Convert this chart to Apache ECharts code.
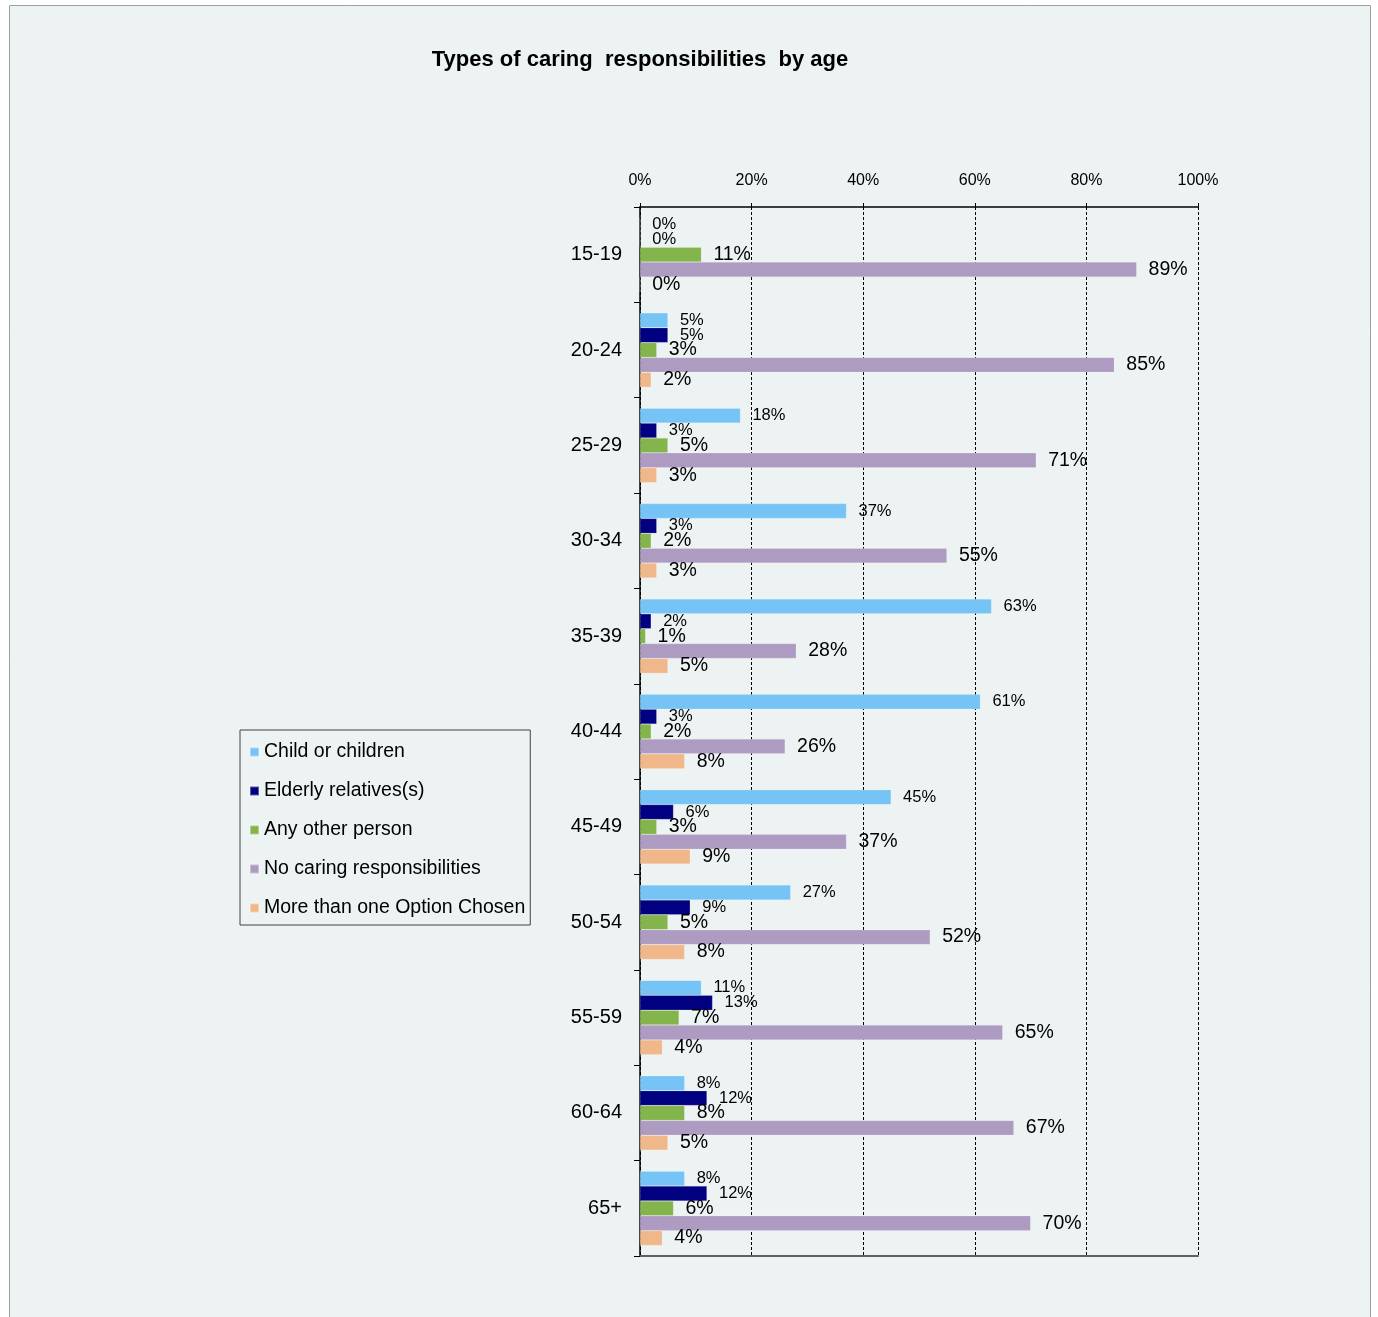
<!DOCTYPE html>
<html>
<head>
<meta charset="utf-8">
<title>Types of caring responsibilities by age</title>
<script src="https://cdn.jsdelivr.net/npm/echarts@6/dist/echarts.min.js"></script>
<style>
  html, body { margin: 0; padding: 0; background: #ffffff; }
  #chart { width: 1378px; height: 1317px; }
</style>
</head>
<body>
<div id="chart"></div>
<script>
// Age bands, top to bottom
const ageGroups = ['15-19', '20-24', '25-29', '30-34', '35-39', '40-44', '45-49', '50-54', '55-59', '60-64', '65+'];

// Percent of respondents in each age band
const childOrChildren   = [0, 5, 18, 37, 63, 61, 45, 27, 11, 8, 8];
const elderlyRelatives  = [0, 5, 3, 3, 2, 3, 6, 9, 13, 12, 12];
const anyOtherPerson    = [11, 3, 5, 2, 1, 2, 3, 5, 7, 8, 6];
const noCaring          = [89, 85, 71, 55, 28, 26, 37, 52, 65, 67, 70];
const moreThanOne       = [0, 2, 3, 3, 5, 8, 9, 8, 4, 5, 4];

// Axis tick values
const axisTicks = [0, 20, 40, 60, 80, 100];

const FONT = '"Liberation Sans", Arial, sans-serif';

const seriesDefs = [
  { name: 'Child or children',            data: childOrChildren,  color: '#75c4f5', labelSize: 16.5 },
  { name: 'Elderly relatives(s)',         data: elderlyRelatives, color: '#000080', labelSize: 16.5 },
  { name: 'Any other person',             data: anyOtherPerson,   color: '#84b44c', labelSize: 19.5 },
  { name: 'No caring responsibilities',   data: noCaring,         color: '#ae9bc2', labelSize: 19.5 },
  { name: 'More than one Option Chosen',  data: moreThanOne,      color: '#f0b88a', labelSize: 19.5 }
];

const chart = echarts.init(document.getElementById('chart'), null, { renderer: 'canvas' });

const option = {
  backgroundColor: '#ffffff',
  animation: false,
  graphic: [{
    type: 'rect',
    z: -10,
    shape: { x: 9.5, y: 5.5, width: 1361, height: 1330 },
    style: { fill: '#edf3f3', stroke: '#a0a0a0', lineWidth: 1 }
  }],
  title: {
    text: 'Types of caring  responsibilities  by age',
    left: 635,
    top: 44,
    textAlign: 'center',
    textStyle: { fontFamily: FONT, fontSize: 22, fontWeight: 'bold', color: '#000' }
  },
  legend: {
    orient: 'vertical',
    left: 240,
    top: 730,
    padding: [12, 5, 7, 9],
    itemGap: 19,
    itemWidth: 9,
    itemHeight: 9,
    icon: 'rect',
    borderColor: '#404040',
    borderWidth: 1,
    backgroundColor: '#edf3f3',
    textStyle: { fontFamily: FONT, fontSize: 19.5, color: '#000', lineHeight: 20 },
    data: seriesDefs.map(s => s.name)
  },
  grid: { left: 640, right: 180, top: 207, bottom: 61, containLabel: false },
  xAxis: [{
    type: 'value',
    position: 'top',
    min: axisTicks[0],
    max: axisTicks[axisTicks.length - 1],
    interval: axisTicks[1] - axisTicks[0],
    axisLine: { show: true, lineStyle: { color: '#000', width: 1.5 } },
    axisTick: { show: true, length: 4, lineStyle: { color: '#000' } },
    axisLabel: { formatter: '{value}%', fontFamily: FONT, fontSize: 16, color: '#000', margin: 18 },
    splitLine: { show: true, lineStyle: { color: '#000', type: [3, 2], width: 1 } }
  }, {
    type: 'value',
    position: 'bottom',
    min: 0,
    max: 100,
    axisLine: { show: true, lineStyle: { color: '#606060', width: 2 } },
    axisTick: { show: false },
    axisLabel: { show: false },
    splitLine: { show: false }
  }],
  yAxis: {
    type: 'category',
    inverse: true,
    data: ageGroups,
    axisLine: { show: true, onZero: false, lineStyle: { color: '#000', width: 1.5 } },
    axisTick: { show: true, length: 6, lineStyle: { color: '#000' } },
    axisLabel: { fontFamily: FONT, fontSize: 20, color: '#000', margin: 18 },
    splitLine: { show: false }
  },
  series: seriesDefs.map(s => ({
    name: s.name,
    type: 'bar',
    xAxisIndex: 0,
    data: s.data,
    barGap: '0%',
    barCategoryGap: '22%',
    itemStyle: { color: s.color, borderColor: 'rgba(255,255,255,0.35)', borderWidth: 0.5 },
    label: {
      show: true,
      position: 'right',
      distance: 12,
      formatter: '{c}%',
      fontFamily: FONT,
      fontSize: s.labelSize,
      color: '#000'
    }
  }))
};

chart.setOption(option);
</script>
</body>
</html>
